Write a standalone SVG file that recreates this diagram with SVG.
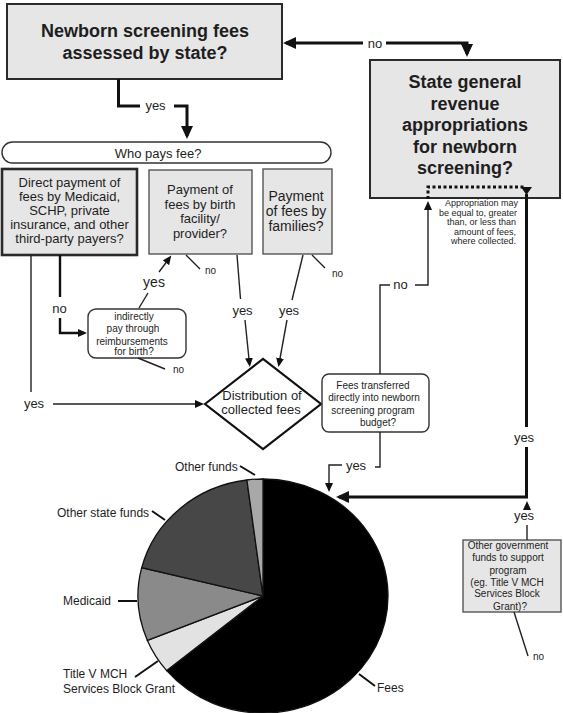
<svg xmlns="http://www.w3.org/2000/svg" width="563" height="713" viewBox="0 0 563 713">
<style>
text{font-family:"Liberation Sans",Arial,sans-serif;fill:#1e1e1e;text-anchor:middle}
.b18{font-size:18px;font-weight:bold}
.t14{font-size:14px}
.t13{font-size:13px}
.t12{font-size:12px;text-anchor:start}
.t10{font-size:10px}
.s95{font-size:10px}
.s9{font-size:9px;text-anchor:end}
.sm{font-size:10px;text-anchor:start}
.gbox{fill:#e6e6e6;stroke:#2a2a2a;stroke-width:2}
.gthin{fill:#e6e6e6;stroke:#555;stroke-width:1.4}
.wbox{fill:#fff;stroke:#333;stroke-width:1.4}
.thick{fill:none;stroke:#111;stroke-width:3}
.mid{fill:none;stroke:#111;stroke-width:2.4}
.thin{fill:none;stroke:#222;stroke-width:1.4}
.lead{fill:none;stroke:#111;stroke-width:2}
.dot{fill:none;stroke:#111;stroke-width:3;stroke-dasharray:3,2.5}
.pie{stroke:#111;stroke-width:1.3}
</style>
<defs>
<marker id="ah" markerUnits="userSpaceOnUse" markerWidth="14" markerHeight="12" refX="10" refY="6" orient="auto"><path d="M0,0 L13,6 L0,12 z" fill="#111"/></marker>
<marker id="as" markerUnits="userSpaceOnUse" markerWidth="10" markerHeight="8" refX="6" refY="4" orient="auto"><path d="M0,0 L9,4 L0,8 z" fill="#111"/></marker>
</defs>

<g id="n-top"><rect class="gbox" x="7" y="4" width="275" height="75"/><text class="b18" x="145" y="37">Newborn screening fees</text><text class="b18" x="145" y="59">assessed by state?</text></g>
<g id="n-state"><rect class="gbox" x="370" y="60" width="190" height="138"/><text class="b18" x="465" y="88">State general</text><text class="b18" x="465" y="109.5">revenue</text><text class="b18" x="465" y="131">appropriations</text><text class="b18" x="465" y="152.5">for newborn</text><text class="b18" x="465" y="174">screening?</text></g>
<g id="n-who"><rect class="wbox" x="2" y="142" width="329" height="21" rx="10.5"/><text class="t13" x="158" y="157.5">Who pays fee?</text></g>
<g id="n-direct"><rect class="gbox" x="2" y="169" width="135" height="86" style="stroke-width:2.6"/><text class="t13" x="69.5" y="187">Direct payment of</text><text class="t13" x="69.5" y="201">fees by Medicaid,</text><text class="t13" x="69.5" y="215">SCHP, private</text><text class="t13" x="69.5" y="229">insurance, and other</text><text class="t13" x="69.5" y="243">third-party payers?</text></g>
<g id="n-facility"><rect class="gthin" x="149" y="170" width="103" height="84"/><text class="t13" x="200" y="194">Payment of</text><text class="t13" x="200" y="208.5">fees by birth</text><text class="t13" x="200" y="223">facility/</text><text class="t13" x="200" y="237.5">provider?</text></g>
<g id="n-families"><rect class="gthin" x="263" y="169" width="69" height="85"/><text class="t14" x="296" y="200.5">Payment</text><text class="t14" x="296" y="216">of fees by</text><text class="t14" x="296" y="230.5">families?</text></g>
<g id="n-indirect"><rect class="wbox" x="88" y="309" width="98" height="49" rx="8"/><text class="s95" x="134" y="319.5">indirectly</text><text class="s95" x="133" y="331.5">pay through</text><text class="s95" x="132" y="345">reimbursements</text><text class="s95" x="134" y="355">for birth?</text></g>
<g id="n-dist"><polygon points="205,404 263,359 321,404 263,449" fill="#fff" stroke="#111" stroke-width="2.2"/><text class="t13" x="262" y="400">Distribution of</text><text class="t13" x="261" y="414">collected fees</text></g>
<g id="n-transfer"><rect class="wbox" x="322" y="374" width="107" height="58" rx="7"/><text class="s95" x="373" y="388.5">Fees transferred</text><text class="s95" x="374" y="401">directly into newborn</text><text class="s95" x="373" y="413.5">screening program</text><text class="s95" x="378" y="426">budget?</text></g>
<g id="n-approp"><text class="s9" x="518" y="206">Appropriation may</text><text class="s9" x="517" y="215.5">be equal to, greater</text><text class="s9" x="516" y="225">than, or less than</text><text class="s9" x="516" y="234.5">amount of fees,</text><text class="s9" x="516" y="244">where collected.</text></g>
<g id="n-other"><rect class="gthin" x="463" y="540" width="98" height="72"/><text class="t10" x="508" y="548.5">Other government</text><text class="t10" x="508" y="561">funds to support</text><text class="t10" x="508" y="573.5">program</text><text class="t10" x="507" y="585.5">(eg. Title V MCH</text><text class="t10" x="507" y="597">Services Block</text><text class="t10" x="510" y="609.5">Grant)?</text></g>

<g id="n-pie">
<path class="pie" fill="#000" d="M263,596 L263,479 A125,117 0 1,1 166.7,670.6 Z"/>
<path class="pie" fill="#e2e2e2" d="M263,596 L166.7,670.6 A125,117 0 0,1 147.4,640.4 Z"/>
<path class="pie" fill="#8a8a8a" d="M263,596 L147.4,640.4 A125,117 0 0,1 141.7,567.7 Z"/>
<path class="pie" fill="#474747" d="M263,596 L141.7,567.7 A125,117 0 0,1 246.9,480 Z"/>
<path class="pie" fill="#a8a8a8" d="M263,596 L246.9,480 A125,117 0 0,1 263,479 Z"/>
<path class="lead" d="M240,466 L255,475 M152,511 L165,520 M118,601 L137,601 M135,677 L158,661 M359,674 L375,686"/>
<text class="t12" x="175" y="471">Other funds</text>
<text class="t12" x="57" y="517">Other state funds</text>
<text class="t12" x="63" y="605">Medicaid</text>
<text class="t12" x="63" y="678">Title V MCH</text>
<text class="t12" x="63" y="693">Services Block Grant</text>
<text class="t12" x="377" y="692">Fees</text>
</g>

<g id="connectors">
<path class="thick" d="M363,43 H286" marker-end="url(#ah)"/>
<text class="t13" x="375" y="47.5">no</text>
<path class="thick" d="M386,43 H467 V54" marker-end="url(#ah)"/>
<path class="thick" d="M118.5,79 V106 H140"/>
<text class="t13" x="155.5" y="110">yes</text>
<path class="thick" d="M174,106 H187 V136" marker-end="url(#ah)"/>
<path class="mid" d="M60,255 V297"/>
<text class="t13" x="59.5" y="313">no</text>
<path class="mid" d="M60,318 V333 H84" marker-end="url(#as)"/>
<path class="thin" d="M31,255 V392"/>
<text class="t13" x="34" y="408">yes</text>
<path class="thin" d="M53,404 H201" marker-end="url(#as)"/>
<path class="thin" d="M139,308 L148,293"/>
<text class="t14" x="154" y="287">yes</text>
<path class="thin" d="M159,272 L169.5,258" marker-end="url(#as)"/>
<path class="thin" d="M237,255 L240.5,299"/>
<text class="t13" x="242.5" y="315">yes</text>
<path class="thin" d="M245,320 L249.5,364" marker-end="url(#as)"/>
<path class="thin" d="M303,255 L292,300"/>
<text class="t13" x="289" y="315">yes</text>
<path class="thin" d="M287,320 L279,364" marker-end="url(#as)"/>
<path class="thin" d="M186,255 L200,269 M312,255 L325,268 M138,358 L165,369 M514,612 L528,656"/>
<text class="sm" x="205" y="274">no</text>
<text class="sm" x="332" y="277">no</text>
<text class="sm" x="173" y="373">no</text>
<text class="sm" x="533" y="660">no</text>
<path class="thin" d="M380,374 V285 H390"/>
<text class="t13" x="400.5" y="289">no</text>
<path class="thin" d="M415,285 H428 V204" marker-end="url(#as)"/>
<path class="dot" d="M428,199 V187 H526"/>
<polygon points="521,187 532,187 526.5,195" fill="#111"/>
<path class="thick" d="M526.5,194 V427"/>
<text class="t13" x="524" y="442">yes</text>
<path class="thick" d="M526.5,447 V497 H339" marker-end="url(#ah)"/>
<path class="thin" d="M380,432 V467 H375"/>
<text class="t13" x="356" y="470">yes</text>
<path class="thin" d="M342,465 H329 V489" marker-end="url(#as)"/>
<path class="thin" d="M527,540 V525"/>
<text class="t13" x="524" y="520">yes</text>
<path class="thin" d="M527,508 V504" marker-end="url(#as)"/>
</g>
</svg>
